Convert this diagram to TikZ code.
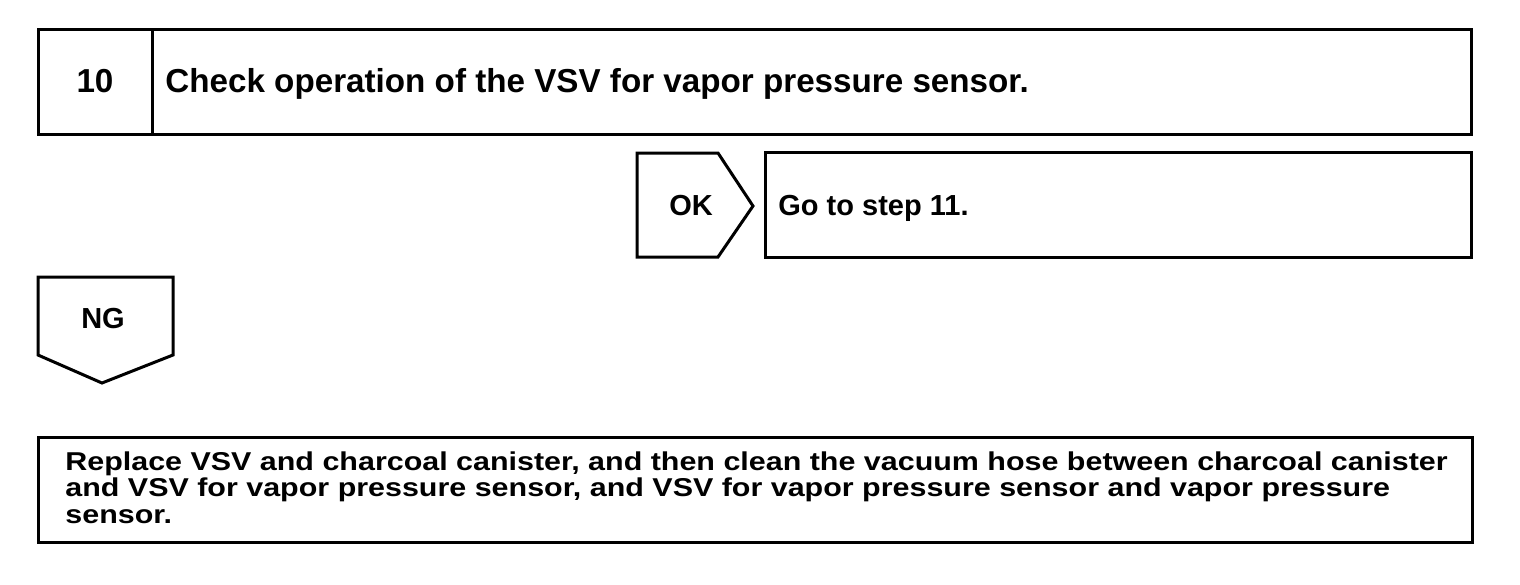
\documentclass[tikz,border=0pt]{standalone}
\usepackage{fontspec}
\setmainfont{Liberation Sans}
\newfontfamily\widesans[FakeStretch=1.18]{Liberation Sans}
\begin{document}
\begin{tikzpicture}[x=0.5pt,y=-0.5pt,
  frame/.style={draw=black,line width=1.5pt,line join=miter},
  lbl/.style={inner sep=0pt,font=\bfseries\fontsize{14.5}{16}\selectfont},
  title/.style={inner sep=0pt,font=\bfseries\fontsize{16.6}{18}\selectfont}]
\useasboundingbox (0,0) rectangle (1520,584);
% top step box
\draw[frame] (38,29) rectangle (1471,134);
\draw[frame] (152,29) -- (152,134);
\node[title,anchor=base] (num) at (95,92) {10};
\node[title,anchor=base west] (step) at (165,92) {Check operation of the VSV for vapor pressure sensor.};
% OK branch
\draw[frame] (637,153) -- (718,153) -- (753,206) -- (718,257) -- (637,257) -- cycle;
\node[lbl,anchor=base] (ok) at (691,215) {OK};
\draw[frame] (765,152) rectangle (1471,257);
\node[lbl,anchor=base west] (goto) at (778,215) {Go to step 11.};
% NG branch
\draw[frame] (38,277) -- (173,277) -- (173,355) -- (102,383) -- (38,355) -- cycle;
\node[lbl,anchor=base] (ng) at (103,328) {NG};
% repair box
\draw[frame] (38,437) rectangle (1472,542);
\node[inner sep=0pt,anchor=north west,align=left,font=\widesans\bfseries\fontsize{12.9}{13.4}\selectfont] (fix) at (65,451)
 {Replace VSV and charcoal canister, and then clean the vacuum hose between charcoal canister\\
  and VSV for vapor pressure sensor, and VSV for vapor pressure sensor and vapor pressure\\
  sensor.};
\end{tikzpicture}
\end{document}
